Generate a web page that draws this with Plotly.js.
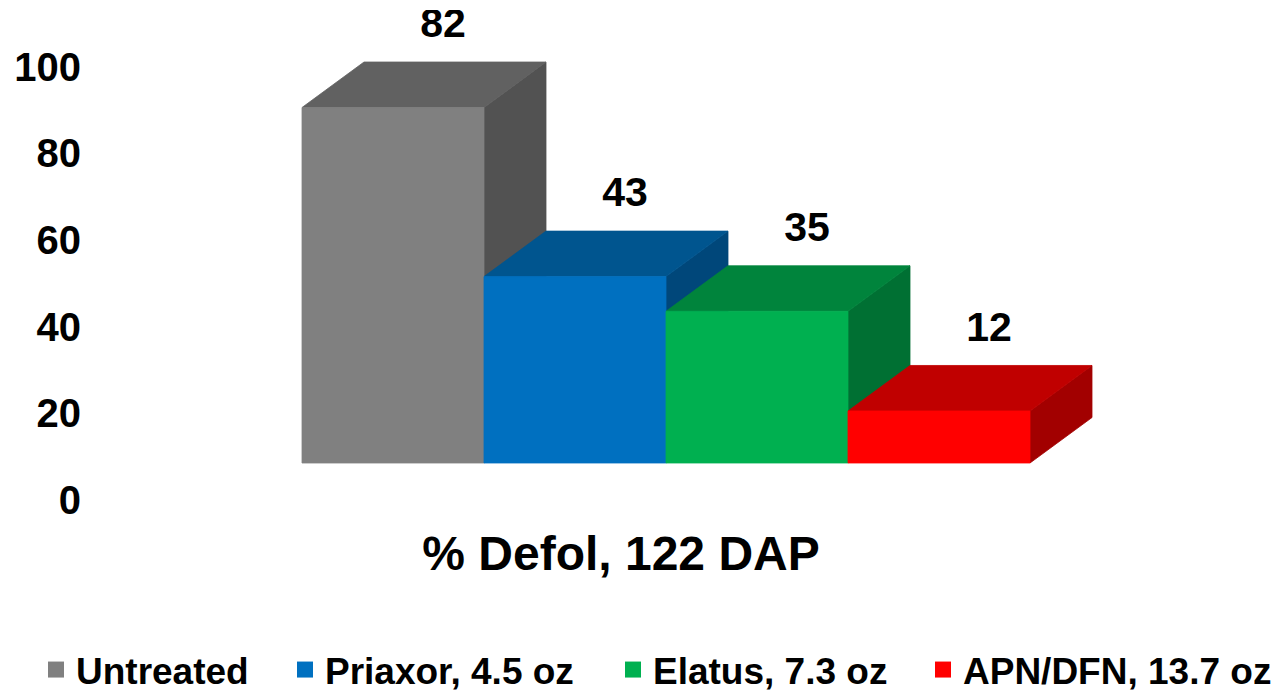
<!DOCTYPE html>
<html>
<head>
<meta charset="utf-8">
<script src="https://cdn.plot.ly/plotly-3.0.1.min.js"></script>
<style>html,body{margin:0;padding:0;background:#fff;}#chart{width:1280px;height:693px;}</style>
</head>
<body>
<div id="chart"></div>
<script>
// ---- data ----
const categories = ['Untreated', 'Priaxor, 4.5 oz', 'Elatus, 7.3 oz', 'APN/DFN, 13.7 oz'];
const values = [82, 43, 35, 12];
const tickValues = [0, 20, 40, 60, 80, 100];
const chartTitle = '% Defol, 122 DAP';

// ---- styles ----
const frontColors = ['#808080', '#0070C0', '#00B050', '#FF0000'];
const topColors   = ['#616161', '#00558F', '#00843C', '#C00000'];
const sideColors  = ['#525252', '#00477A', '#007033', '#A20000'];
const FONT = 'Arial, "Liberation Sans", sans-serif';

// geometry constants (pixels -> axis units)
const pxPerX = 182;            // one category width in px
const pxPerY = 4.335;          // px per value unit
const depthX = 62 / pxPerX;    // 3-D depth offset (x)
const depthY = 45.5 / pxPerY;  // 3-D depth offset (y)

const traces = [];
values.forEach((v, i) => {
  const L = i - 0.5, R = i + 0.5;
  // side face
  traces.push({
    type: 'scatter', mode: 'lines', fill: 'toself', showlegend: false, hoverinfo: 'skip',
    x: [R, R + depthX, R + depthX, R, R],
    y: [0, depthY, v + depthY, v, 0],
    fillcolor: sideColors[i], line: {color: sideColors[i], width: 0.8}
  });
  // top face
  traces.push({
    type: 'scatter', mode: 'lines', fill: 'toself', showlegend: false, hoverinfo: 'skip',
    x: [L, R, R + depthX, L + depthX, L],
    y: [v, v, v + depthY, v + depthY, v],
    fillcolor: topColors[i], line: {color: topColors[i], width: 0.8}
  });
  // front face
  traces.push({
    type: 'scatter', mode: 'lines', fill: 'toself', showlegend: false, hoverinfo: 'skip',
    x: [L, R, R, L, L],
    y: [0, 0, v, v, 0],
    fillcolor: frontColors[i], line: {color: frontColors[i], width: 0.8}
  });
});

// value labels (above the back edge of each top face)
traces.push({
  type: 'scatter', mode: 'text', showlegend: false, hoverinfo: 'skip',
  x: values.map((v, i) => i + depthX - 12 / pxPerX),
  y: values.map(v => v + depthY + 35 / pxPerY),
  text: values.map(String),
  textposition: 'middle center',
  textfont: {family: FONT, size: 41, color: '#000', weight: 'bold'}
});

// legend entries (one legend per entry so each can sit where the reference puts it)
const legendIds = ['legend', 'legend2', 'legend3', 'legend4'];
categories.forEach((c, i) => {
  traces.push({
    type: 'scatter', mode: 'markers', name: c, x: [null], y: [null],
    legend: legendIds[i], showlegend: true,
    marker: {symbol: 'square', size: 20, color: frontColors[i]}
  });
});

const W = 1280, H = 693;
const legendX = [36, 285, 613, 923];
const legendBase = {
  orientation: 'h', xref: 'container', yref: 'container',
  y: 1 - 670 / H, yanchor: 'middle', xanchor: 'left',
  bgcolor: 'rgba(0,0,0,0)', borderwidth: 0,
  font: {family: FONT, size: 37, color: '#000', weight: 'bold'}
};

const plotLeft = 82, plotTop = 10, plotBottom = 520;
const xmin = -0.5 - (302 - plotLeft) / pxPerX;
const xmax = xmin + (W - plotLeft) / pxPerX;
const barZeroPx = 463, labelZeroPx = 500;

const layout = {
  width: W, height: H,
  margin: {l: plotLeft, r: 0, t: plotTop, b: H - plotBottom, autoexpand: false},
  paper_bgcolor: '#fff', plot_bgcolor: 'rgba(0,0,0,0)',
  showlegend: true,
  title: {
    text: chartTitle, xref: 'container', yref: 'container',
    x: 621 / W, y: 1 - 553 / H, xanchor: 'center', yanchor: 'middle',
    font: {family: FONT, size: 48, color: '#000', weight: 'bold'}
  },
  xaxis: {range: [xmin, xmax], visible: false, fixedrange: true},
  yaxis: {
    range: [-(plotBottom - barZeroPx) / pxPerY, (barZeroPx - plotTop) / pxPerY],
    visible: false, fixedrange: true
  },
  yaxis2: {
    overlaying: 'y', side: 'left', anchor: 'x',
    range: [-(plotBottom - labelZeroPx) / pxPerY, (labelZeroPx - plotTop) / pxPerY],
    tickmode: 'array', tickvals: tickValues, ticktext: tickValues.map(String),
    showgrid: false, zeroline: false, showline: false, ticks: '',
    tickfont: {family: FONT, size: 40, color: '#000', weight: 'bold'},
    fixedrange: true
  },
  legend:  Object.assign({}, legendBase, {x: legendX[0] / W}),
  legend2: Object.assign({}, legendBase, {x: legendX[1] / W}),
  legend3: Object.assign({}, legendBase, {x: legendX[2] / W}),
  legend4: Object.assign({}, legendBase, {x: legendX[3] / W})
};

// placeholder trace so the label axis renders
traces.push({type: 'scatter', mode: 'markers', x: [null], y: [null], yaxis: 'y2', showlegend: false, hoverinfo: 'skip'});

Plotly.newPlot('chart', traces, layout, {displayModeBar: false, staticPlot: true});
</script>
</body>
</html>
